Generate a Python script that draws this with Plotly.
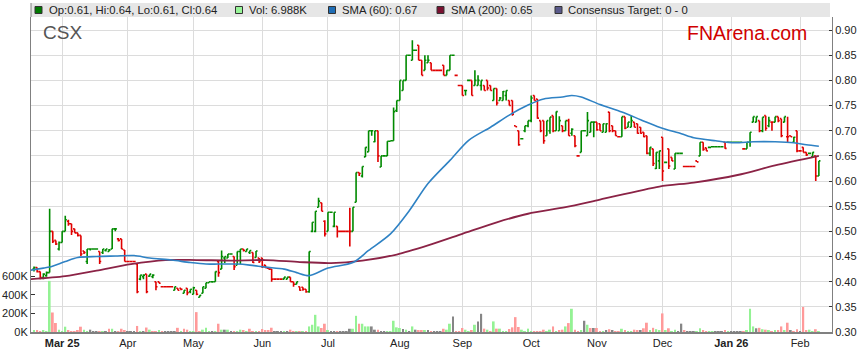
import plotly.graph_objects as go

# ---------------- data ----------------
open_ = [
    .425, .428, .420, .408, .412, .418, .500, .482, .465, .478,
    .500, .520, .515, .505, .497, .492, .461, .440, .465, .465,
    .465, .460, .458, .462, .460, .465, .505, .485, .485, .463,
    .440, .440, .440, .435, .405, .410, .415, .411, .410, .400,
    .400, .390, .390, .390, .390, .383, .387, .387, .377, .387,
    .380, .375, .383, .369, .377, .387, .398, .400, .400, .440,
    .425, .447, .447, .455, .450, .433, .460, .465, .460, .458,
    .458, .448, .447, .447, .433, .427, .425, .405, .405, .405,
    .405, .405, .409, .400, .395, .390, .389, .385, .380, .500,
    .500, .548, .557, .520, .500, .538, .510, .510, .500, .500,
    .500, .500, .500, .558, .617, .610, .648, .658, .700, .678,
    .700, .628, .650, .650, .679, .680, .740, .760, .780, .800,
    .850, .840, .860, .870, .840, .820, .835, .835, .820, .820,
    .820, .830, .810, .820, .850, .810, .790, .790, .780, .800,
    .800, .790, .790, .790, .790, .800, .790, .760, .784, .760,
    .760, .770, .760, .760, .710, .700, .684, .700, .710, .720,
    .770, .763, .720, .720, .690, .700, .730, .700, .700, .710,
    .700, .720, .695, .690, .650, .657, .700, .690, .697, .717,
    .717, .714, .697, .697, .737, .710, .700, .688, .688, .728,
    .707, .707, .717, .714, .707, .697, .690, .655, .664, .625,
    .640, .687, .637, .664, .647, .624, .655, .655, .629, .629,
    .629, .629, .640, .650, .677, .666, .667, .668, .668, .668,
    .668, .677, .677, .677, .677, .677, .677, .664, .664, .677,
    .717, .717, .720, .700, .730, .710, .717, .717, .728, .724,
    .717, .688, .690, .677, .700, .660, .667, .657, .655, .648,
    .650, .610,
]
high = [
    .430, .428, .420, .417, .420, .545, .500, .482, .480, .500,
    .531, .523, .515, .505, .497, .492, .461, .465, .465, .465,
    .465, .460, .465, .465, .465, .505, .505, .487, .485, .463,
    .440, .440, .440, .435, .413, .415, .415, .415, .415, .400,
    .400, .390, .390, .390, .390, .390, .387, .387, .383, .387,
    .385, .390, .383, .373, .390, .398, .400, .400, .420, .443,
    .462, .450, .455, .455, .450, .460, .465, .465, .465, .462,
    .458, .461, .447, .447, .433, .427, .425, .405, .405, .405,
    .409, .409, .409, .400, .400, .390, .389, .385, .460, .518,
    .540, .567, .557, .522, .538, .538, .538, .510, .500, .500,
    .500, .547, .548, .617, .617, .629, .667, .700, .700, .700,
    .700, .650, .650, .679, .680, .746, .760, .800, .800, .850,
    .850, .880, .860, .870, .840, .850, .850, .835, .820, .820,
    .820, .830, .820, .850, .850, .810, .790, .790, .780, .800,
    .800, .820, .810, .800, .790, .800, .790, .784, .784, .767,
    .779, .780, .760, .760, .710, .700, .684, .710, .720, .770,
    .770, .763, .720, .720, .720, .727, .730, .738, .729, .710,
    .720, .724, .705, .690, .650, .700, .700, .737, .717, .717,
    .717, .714, .714, .715, .737, .710, .700, .688, .728, .728,
    .717, .730, .717, .714, .707, .697, .690, .667, .664, .657,
    .660, .687, .637, .664, .647, .655, .655, .655, .629, .629,
    .629, .629, .640, .677, .677, .666, .667, .668, .668, .668,
    .668, .677, .677, .677, .677, .677, .677, .664, .677, .697,
    .728, .728, .720, .727, .730, .728, .717, .728, .728, .724,
    .728, .728, .690, .688, .700, .660, .667, .657, .655, .657,
    .650, .640,
]
low = [
    .420, .418, .405, .405, .410, .418, .477, .473, .462, .478,
    .500, .511, .493, .497, .490, .451, .455, .435, .462, .465,
    .465, .435, .455, .460, .460, .465, .500, .480, .465, .440,
    .440, .440, .440, .377, .403, .405, .377, .410, .407, .383,
    .397, .390, .390, .390, .390, .383, .383, .383, .377, .373,
    .377, .375, .373, .369, .377, .387, .398, .398, .400, .410,
    .425, .437, .447, .455, .423, .433, .435, .460, .460, .455,
    .437, .448, .437, .427, .427, .425, .400, .405, .405, .405,
    .405, .405, .400, .390, .395, .382, .382, .378, .378, .498,
    .498, .548, .540, .490, .500, .538, .508, .488, .500, .500,
    .500, .470, .500, .558, .610, .607, .648, .658, .690, .677,
    .638, .628, .650, .650, .679, .680, .737, .760, .780, .800,
    .850, .840, .860, .840, .810, .820, .835, .820, .820, .820,
    .820, .810, .810, .820, .850, .810, .790, .770, .770, .800,
    .770, .790, .790, .780, .780, .780, .780, .760, .750, .760,
    .760, .760, .750, .730, .708, .670, .684, .697, .707, .717,
    .760, .724, .697, .674, .690, .694, .697, .700, .700, .697,
    .700, .690, .690, .667, .650, .657, .700, .690, .697, .687,
    .700, .700, .697, .697, .697, .697, .690, .688, .688, .703,
    .707, .707, .707, .694, .694, .687, .653, .650, .630, .624,
    .624, .600, .637, .624, .640, .624, .655, .655, .629, .629,
    .629, .629, .638, .650, .660, .660, .667, .668, .668, .668,
    .668, .664, .677, .677, .677, .677, .677, .664, .664, .668,
    .717, .717, .697, .697, .700, .707, .700, .717, .717, .687,
    .717, .677, .688, .677, .657, .660, .657, .650, .655, .647,
    .600, .610,
]
close = [
    .428, .420, .408, .415, .418, .500, .480, .475, .478, .500,
    .523, .515, .500, .497, .492, .455, .458, .465, .465, .465,
    .465, .440, .465, .465, .463, .505, .505, .482, .465, .440,
    .440, .440, .440, .380, .413, .413, .380, .415, .413, .390,
    .397, .390, .390, .390, .390, .390, .383, .385, .383, .378,
    .385, .388, .375, .373, .390, .398, .400, .400, .420, .418,
    .450, .450, .455, .455, .430, .460, .465, .462, .465, .462,
    .438, .461, .440, .430, .428, .425, .405, .405, .405, .405,
    .409, .409, .400, .395, .400, .383, .385, .380, .460, .518,
    .540, .560, .540, .495, .538, .538, .538, .500, .500, .500,
    .500, .500, .548, .617, .615, .629, .667, .700, .700, .700,
    .650, .650, .650, .679, .680, .738, .760, .800, .800, .850,
    .850, .860, .860, .840, .810, .840, .840, .820, .820, .820,
    .820, .810, .820, .850, .850, .810, .790, .770, .780, .800,
    .770, .800, .800, .800, .780, .785, .780, .784, .755, .765,
    .778, .780, .750, .733, .708, .672, .684, .710, .720, .765,
    .760, .725, .700, .680, .720, .727, .700, .738, .720, .700,
    .720, .690, .703, .670, .650, .700, .700, .720, .717, .717,
    .702, .700, .714, .714, .700, .700, .690, .688, .728, .705,
    .717, .720, .707, .695, .695, .688, .655, .667, .635, .657,
    .660, .620, .637, .630, .640, .655, .655, .655, .629, .629,
    .629, .629, .638, .677, .663, .660, .667, .668, .668, .668,
    .668, .665, .677, .677, .677, .677, .677, .664, .677, .697,
    .728, .728, .700, .727, .705, .720, .717, .728, .720, .690,
    .728, .688, .688, .687, .660, .660, .657, .652, .655, .657,
    .610, .640,
]
volume_k = [
    12, 18, 8, 15, 10, 550, 210, 97, 23, 6,
    57, 15, 5, 8, 18, 57, 25, 6, 25, 4,
    5, 8, 4, 6, 35, 35, 5, 8, 35, 15,
    4, 3, 5, 65, 8, 10, 48, 25, 6, 10,
    15, 5, 4, 6, 3, 8, 45, 6, 35, 25,
    8, 10, 214, 5, 25, 46, 5, 4, 8, 89,
    25, 25, 25, 4, 6, 10, 25, 15, 5, 35,
    8, 6, 5, 32, 18, 18, 46, 4, 5, 3,
    8, 5, 25, 4, 6, 5, 4, 6, 60, 78,
    185, 60, 43, 89, 15, 5, 6, 10, 4, 3,
    5, 35, 35, 174, 89, 89, 60, 60, 60, 25,
    25, 8, 8, 6, 5, 121, 50, 43, 32, 25,
    5, 60, 25, 15, 15, 15, 15, 4, 3, 5,
    8, 35, 25, 89, 168, 6, 5, 43, 25, 10,
    18, 78, 114, 196, 36, 25, 10, 114, 36, 36,
    5, 6, 32, 50, 160, 54, 25, 5, 36, 6,
    10, 10, 5, 25, 4, 25, 60, 5, 15, 25,
    60, 96, 250, 25, 10, 15, 121, 78, 43, 43,
    43, 10, 8, 20, 30, 12, 8, 5, 35, 15,
    10, 8, 25, 12, 20, 40, 100, 15, 45, 30,
    20, 200, 15, 40, 10, 25, 5, 90, 15, 5,
    4, 6, 10, 40, 20, 10, 8, 5, 4, 6,
    5, 15, 8, 5, 4, 6, 5, 10, 20, 250,
    60, 40, 45, 30, 25, 15, 10, 20, 15, 60,
    20, 100, 15, 10, 30, 8, 270, 20, 25, 10,
    30, 6.988,
]
sma60_bar = [-1, 3, 5, 10, 14, 20, 26, 32, 37, 44, 50, 55, 59, 65, 69, 74, 80, 84, 88,
             94, 102, 107, 114, 120, 126, 133, 139, 146, 152, 158, 163, 169, 172, 175,
             181, 188, 194, 200, 207, 211, 218, 224, 230, 237, 243, 247, 251]
sma60_val = [.423, .427, .429, .440, .448, .450, .451, .452, .447, .443, .438, .435, .435,
             .435, .433, .429, .425, .418, .412, .427, .438, .462, .495, .541, .595, .641,
             .681, .707, .731, .751, .763, .767, .770, .767, .752, .737, .722, .707, .694,
             .686, .680, .676, .678, .678, .676, .672, .669]
sma200_bar = [-1, 10, 20, 31, 42, 52, 63, 74, 85, 95, 105, 116, 126, 137, 148, 158, 170,
              181, 200, 211, 225, 237, 251]
sma200_val = [.405, .411, .422, .435, .443, .443, .442, .443, .439, .437, .442, .454, .472,
              .495, .518, .535, .548, .563, .589, .597, .612, .631, .650]
month_bar = [9, 30, 51, 73, 94, 117, 137, 159, 180, 201, 223, 245]
month_label = ["<b>Mar 25</b>", "Apr", "May", "Jun", "Jul", "Aug", "Sep", "Oct", "Nov",
               "Dec", "<b>Jan 26</b>", "Feb"]
price_ticks = [0.30, 0.35, 0.40, 0.45, 0.50, 0.55, 0.60, 0.65, 0.70, 0.75, 0.80, 0.85, 0.90]
vol_ticks = [0, 200000, 400000, 600000]
vol_tick_text = ["0K", "200K", "400K", "600K"]

# ---------------- figure ----------------
idx = list(range(len(close)))
volume = [v * 1000 for v in volume_k]
vol_colors = []
for i, c in enumerate(close):
    prev = close[i - 1] if i > 0 else open_[i]
    if c > prev:
        vol_colors.append("#94f294")
    elif c < prev:
        vol_colors.append("#ff9a9a")
    else:
        vol_colors.append("#868686")

FONT = "Liberation Sans, Arial, sans-serif"
L, R, T, B = 31, 832, 17, 332


def px(x):
    return (x - L) / (R - L)


def py(y):
    return (B - y) / (B - T)


fig = go.Figure()
fig.add_trace(go.Bar(x=idx, y=volume, marker=dict(color=vol_colors, line=dict(width=0)),
                     width=0.62, yaxis="y", hoverinfo="skip"))
fig.add_trace(go.Scatter(x=sma200_bar, y=sma200_val, mode="lines", yaxis="y2",
                         line=dict(color="#8b2346", width=1.8, shape="spline", smoothing=0.8)))
fig.add_trace(go.Scatter(x=sma60_bar, y=sma60_val, mode="lines", yaxis="y2",
                         line=dict(color="#2f82c4", width=1.6, shape="spline", smoothing=0.8)))
fig.add_trace(go.Ohlc(x=idx, open=open_, high=high, low=low, close=close, yaxis="y2",
                      tickwidth=0.5,
                      increasing=dict(line=dict(color="#008a00", width=1.6)),
                      decreasing=dict(line=dict(color="#e00000", width=1.6))))

last = len(close) - 1
legend_items = [
    (35, 46.5, "#007a00", "Op:%.2f, Hi:%.2f, Lo:%.2f, Cl:%.2f" % (open_[last], high[last], low[last], close[last])),
    (235.5, 246.5, "#98f598", "Vol: %.3fK" % volume_k[last]),
    (328.5, 340, "#1f6db5", "SMA (60): %.2f" % sma60_val[-1]),
    (437, 448.5, "#7a1030", "SMA (200): %.2f" % sma200_val[-1]),
    (555, 566, "#5a5a8a", "Consensus Target: 0 - 0"),
]

shapes = [dict(type="rect", xref="paper", yref="paper", x0=0, x1=px(830), y0=1, y1=py(3),
               fillcolor="#e6e6e6", line=dict(width=0), layer="below"),
          dict(type="line", xref="paper", yref="paper", x0=0, x1=0, y0=1, y1=py(3),
               line=dict(color="#808080", width=1))]
annotations = []
for sx, tx, col, txt in legend_items:
    shapes.append(dict(type="rect", xref="paper", yref="paper", x0=px(sx), x1=px(sx + 7),
                       y0=py(13.5), y1=py(6.5), fillcolor=col, line=dict(color="#333333", width=1)))
    annotations.append(dict(xref="paper", yref="paper", x=px(tx), y=py(10), text=txt,
                            showarrow=False, xanchor="left", yanchor="middle",
                            font=dict(family=FONT, size=11.3, color="#222222")))
annotations.append(dict(xref="paper", yref="paper", x=px(41), y=py(32), text="CSX",
                        showarrow=False, xanchor="left", yanchor="middle",
                        font=dict(family=FONT, size=19, color="#555555")))
annotations.append(dict(xref="paper", yref="paper", x=px(809), y=py(33), text="FNArena.com",
                        showarrow=False, xanchor="right", yanchor="middle",
                        font=dict(family=FONT, size=19.5, color="#d00000")))

fig.update_layout(
    width=859, height=363, autosize=False,
    margin=dict(l=L, r=859 - R, t=T, b=363 - B, pad=0, autoexpand=False),
    paper_bgcolor="white", plot_bgcolor="white",
    showlegend=False, hovermode=False,
    font=dict(family=FONT, size=11, color="#222222"),
    xaxis=dict(range=[-0.96, 255.2], tickmode="array", tickvals=month_bar, ticktext=month_label,
               showgrid=True, gridcolor="#dcdcdc", gridwidth=1, zeroline=False,
               showline=True, linecolor="#808080", linewidth=1.5, ticks="", automargin=False,
               tickfont=dict(family=FONT, size=11, color="#222222"),
               rangeslider=dict(visible=False), fixedrange=True),
    yaxis=dict(range=[0, 3.39e6], side="left", tickmode="array", tickvals=vol_ticks,
               ticktext=vol_tick_text, showgrid=False, zeroline=False, showline=True,
               linecolor="#808080", linewidth=1, ticks="inside", ticklen=4, tickcolor="#333333",
               automargin=False,
               tickfont=dict(family=FONT, size=11, color="#222222"), fixedrange=True),
    yaxis2=dict(range=[0.30, 0.926], side="right", overlaying="y", tickmode="array",
                tickvals=price_ticks, ticktext=["%.2f" % v for v in price_ticks],
                showgrid=True, gridcolor="#dcdcdc", gridwidth=1, zeroline=False,
                showline=True, linecolor="#808080", linewidth=1, ticks="inside", ticklen=3,
                automargin=False,
                tickcolor="#333333", tickfont=dict(family=FONT, size=11, color="#222222"),
                fixedrange=True),
    shapes=shapes, annotations=annotations,
)

fig.write_html("out.html", config={"responsive": False, "displayModeBar": False},
               post_script="document.body.style.margin='0px';document.body.style.padding='0px';")
